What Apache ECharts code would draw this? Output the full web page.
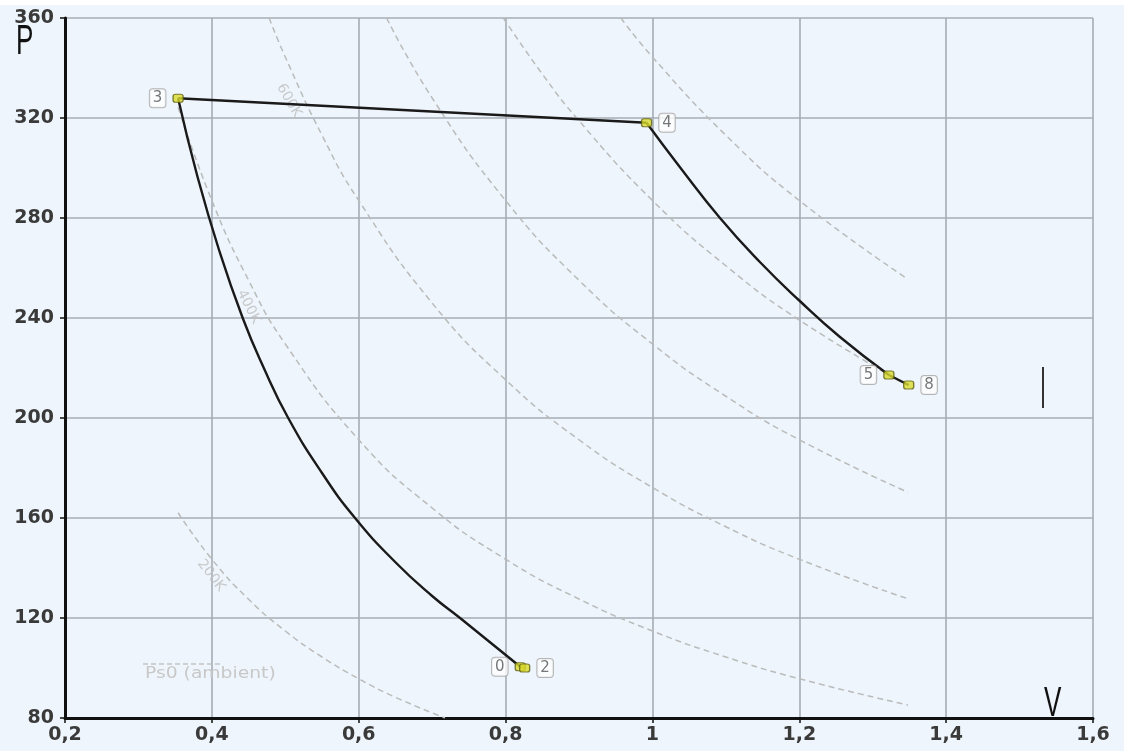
<!DOCTYPE html>
<html><head><meta charset="utf-8">
<script src="https://cdn.jsdelivr.net/npm/echarts@6/dist/echarts.min.js"></script>
<style>html,body{margin:0;padding:0;background:#fff}#c{width:1124px;height:751px}</style>
</head><body><div id="c"></div>
<script>
// ---- data ----
const pointNames = ['3', '4', '5', '8', '0', '2'];
const pointV = [0.354, 0.992, 1.322, 1.349, 0.820, 0.826];
const pointP = [327.9, 318.1, 217.2, 213.2, 100.5, 100.0];

const path34 = [[0.354, 327.9], [0.992, 318.1]];
const path45 = [[0.992, 318.1], [1.037, 300.5], [1.092, 280.0], [1.146, 262.5], [1.200, 247.0], [1.255, 232.5], [1.322, 217.2]];
const path58 = [[1.322, 217.2], [1.349, 213.2]];
const path30 = [[0.354, 327.9], [0.380, 297], [0.410, 267], [0.442, 240], [0.470, 220.5], [0.504, 200], [0.550, 178], [0.595, 160], [0.650, 142.3], [0.700, 128.8], [0.738, 120], [0.820, 100.5]];
const path02 = [[0.820, 100.5], [0.826, 100.0]];

const iso200 = [[0.354, 162.1], [0.40, 143.5], [0.45, 127.5], [0.50, 114.8], [0.55, 104.4], [0.60, 95.7], [0.65, 88.3], [0.7175, 80]];
const iso400 = [[0.354, 324.3], [0.40, 287.0], [0.45, 255.1], [0.50, 229.6], [0.60, 191.3], [0.70, 164.0], [0.80, 143.5], [0.90, 127.6], [1.00, 114.8], [1.10, 104.4], [1.20, 95.7], [1.348, 85.2]];
const iso600 = [[0.478, 360], [0.50, 344.4], [0.55, 313.1], [0.60, 287.0], [0.70, 246.0], [0.80, 215.3], [0.90, 191.3], [1.00, 172.2], [1.10, 156.5], [1.20, 143.5], [1.348, 127.7]];
const iso800 = [[0.638, 360], [0.70, 328.0], [0.80, 287.0], [0.90, 255.1], [1.00, 229.6], [1.10, 208.7], [1.20, 191.3], [1.348, 170.3]];
const iso1000 = [[0.797, 360], [0.85, 337.6], [0.90, 318.9], [1.00, 287.0], [1.10, 260.9], [1.20, 239.2], [1.348, 212.9]];
const iso1200 = [[0.957, 360], [1.00, 344.4], [1.10, 313.1], [1.20, 287.0], [1.348, 255.5]];

const isoLabelText = ['200K', '400K', '600K'];
const isoLabelAt = [[0.399, 137], [0.450, 244.5], [0.505, 327]];

const xMin = 0.2, xMax = 1.6, xStep = 0.2;
const yMin = 80, yMax = 360, yStep = 40;
const legendText = 'Ps0 (ambient)';
const xName = 'V', yName = 'P';

// ---- chart ----
const chart = echarts.init(document.getElementById('c'), null, {renderer: 'canvas'});
const FONT = '"DejaVu Sans", "Liberation Sans", sans-serif';
const FONT2 = '"Liberation Sans", Arial, sans-serif';
const isoStyle = {color: '#BBBBBB', width: 1.5, type: [6, 4]};
const isoRot = [-52, -63, -60];
const sideOf = {'3': 'left', '4': 'right', '5': 'left', '8': 'right', '0': 'left', '2': 'right'};

function isoSeries(d) {
  return {type: 'line', data: d, smooth: true, symbol: 'none', silent: true, z: 2,
    lineStyle: isoStyle, clip: true};
}
function pathSeries(d, smooth) {
  return {type: 'line', data: d, smooth: smooth, symbol: 'none', silent: true, z: 5,
    lineStyle: {color: '#1a1a1a', width: 2.4}};
}

const option = {
  backgroundColor: '#EEF5FC',
  animation: false,
  grid: {left: 65, right: 31, top: 18, bottom: 33, outerBoundsMode: 'none', containLabel: false},
  xAxis: {
    type: 'value', min: xMin, max: xMax, interval: xStep,
    axisLine: {show: true, onZero: false, lineStyle: {color: '#111', width: 3}},
    axisTick: {show: true, length: 5, lineStyle: {color: '#111', width: 1.5}},
    axisLabel: {fontSize: 19, fontWeight: 'bold', color: '#3a3a3a', fontFamily: FONT, margin: 8,
      formatter: v => String(Math.round(v * 10) / 10).replace('.', ',')},
    splitLine: {show: true, lineStyle: {color: '#A6ACB4', width: 1.6}}
  },
  yAxis: {
    type: 'value', min: yMin, max: yMax, interval: yStep,
    axisLine: {show: true, onZero: false, lineStyle: {color: '#111', width: 3}},
    axisTick: {show: true, length: 5, lineStyle: {color: '#111', width: 1.5}},
    axisLabel: {fontSize: 19, fontWeight: 'bold', color: '#3a3a3a', fontFamily: FONT, margin: 11},
    splitLine: {show: true, lineStyle: {color: '#A6ACB4', width: 1.6}}
  },
  series: [
    isoSeries(iso200), isoSeries(iso400), isoSeries(iso600),
    isoSeries(iso800), isoSeries(iso1000), isoSeries(iso1200),
    {
      type: 'scatter', silent: true, z: 3, symbolSize: 0,
      data: isoLabelAt.map((p, i) => ({value: p, name: isoLabelText[i],
        label: {rotate: isoRot[i]}})),
      label: {show: true, position: 'inside', formatter: p => p.name,
        color: '#BEBEBE', fontSize: 14, fontFamily: FONT}
    },
    pathSeries(path34, false), pathSeries(path45, true), pathSeries(path58, false),
    pathSeries(path30, true), pathSeries(path02, false),
    {
      type: 'scatter', silent: true, z: 8, symbol: 'roundRect', symbolSize: [10, 8],
      itemStyle: {color: '#DADB2C', borderColor: '#5E5E10', borderWidth: 1.2},
      data: pointNames.map((n, i) => ({value: [pointV[i], pointP[i]], name: n,
        label: {position: sideOf[n]}})),
      label: {show: true, formatter: p => p.name, distance: 7,
        color: '#555', fontSize: 15, fontFamily: FONT,
        backgroundColor: '#FFFFFF', borderColor: '#A5A5A5', borderWidth: 1,
        borderRadius: 3, padding: [2, 3, 1, 3]}
    }
  ],
  graphic: [
    {type: 'rect', left: 0, top: 0, shape: {width: 1124, height: 5}, style: {fill: '#FFFFFF'}, z: 100},
    {type: 'text', x: 16, y: 21, scaleX: 0.62, style: {text: yName, font: '42px ' + FONT2, fill: '#111'}, z: 100},
    {type: 'text', x: 1044, y: 683, scaleX: 0.62, style: {text: xName, font: '42px ' + FONT2, fill: '#111'}, z: 100},
    {type: 'line', shape: {x1: 143, y1: 664, x2: 222, y2: 664},
      style: {stroke: '#C4C4C4', lineWidth: 1.5, lineDash: [5, 3]}, z: 100},
    {type: 'text', x: 145, y: 666, scaleX: 1.17, style: {text: legendText, font: '16px ' + FONT, fill: '#C8C8C8'}, z: 100},
    {type: 'line', shape: {x1: 1043, y1: 367, x2: 1043, y2: 408},
      style: {stroke: '#333', lineWidth: 2}, z: 100}
  ]
};
chart.setOption(option);
</script>
</body></html>
